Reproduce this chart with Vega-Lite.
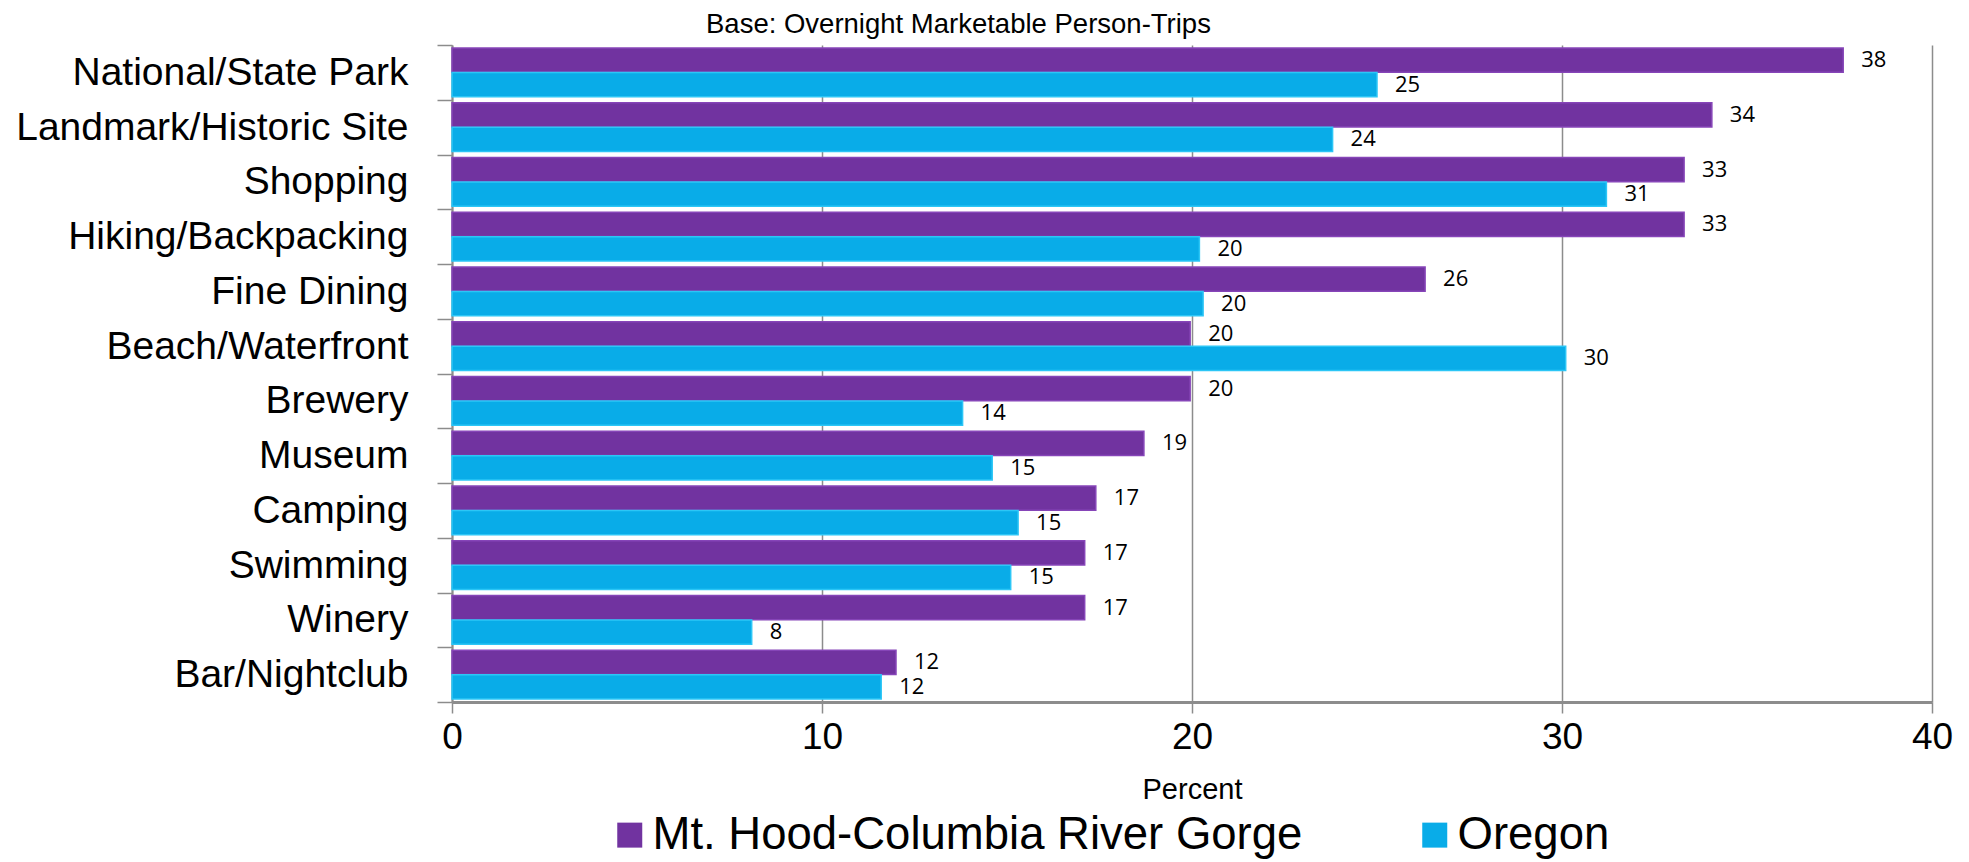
{
  "$schema": "https://vega.github.io/schema/vega-lite/v6.json",
  "autosize": {"type": "none"},
  "width": 1480,
  "height": 657,
  "padding": {"left": 452, "top": 45, "right": 37, "bottom": 160},
  "background": "white",
  "title": {
    "text": "Base: Overnight Marketable Person-Trips",
    "anchor": "start",
    "frame": "group",
    "dx": 254,
    "dy": 22,
    "offset": 10,
    "font": "Liberation Sans",
    "fontSize": 27.5,
    "fontWeight": "normal",
    "color": "#000000"
  },
  "data": {
    "values": [
      {"activity": "National/State Park", "region": "Mt. Hood-Columbia River Gorge", "pct": 37.6},
      {"activity": "National/State Park", "region": "Oregon", "pct": 25.0},
      {"activity": "Landmark/Historic Site", "region": "Mt. Hood-Columbia River Gorge", "pct": 34.05},
      {"activity": "Landmark/Historic Site", "region": "Oregon", "pct": 23.8},
      {"activity": "Shopping", "region": "Mt. Hood-Columbia River Gorge", "pct": 33.3},
      {"activity": "Shopping", "region": "Oregon", "pct": 31.2},
      {"activity": "Hiking/Backpacking", "region": "Mt. Hood-Columbia River Gorge", "pct": 33.3},
      {"activity": "Hiking/Backpacking", "region": "Oregon", "pct": 20.2},
      {"activity": "Fine Dining", "region": "Mt. Hood-Columbia River Gorge", "pct": 26.3},
      {"activity": "Fine Dining", "region": "Oregon", "pct": 20.3},
      {"activity": "Beach/Waterfront", "region": "Mt. Hood-Columbia River Gorge", "pct": 19.95},
      {"activity": "Beach/Waterfront", "region": "Oregon", "pct": 30.1},
      {"activity": "Brewery", "region": "Mt. Hood-Columbia River Gorge", "pct": 19.95},
      {"activity": "Brewery", "region": "Oregon", "pct": 13.8},
      {"activity": "Museum", "region": "Mt. Hood-Columbia River Gorge", "pct": 18.7},
      {"activity": "Museum", "region": "Oregon", "pct": 14.6},
      {"activity": "Camping", "region": "Mt. Hood-Columbia River Gorge", "pct": 17.4},
      {"activity": "Camping", "region": "Oregon", "pct": 15.3},
      {"activity": "Swimming", "region": "Mt. Hood-Columbia River Gorge", "pct": 17.1},
      {"activity": "Swimming", "region": "Oregon", "pct": 15.1},
      {"activity": "Winery", "region": "Mt. Hood-Columbia River Gorge", "pct": 17.1},
      {"activity": "Winery", "region": "Oregon", "pct": 8.1},
      {"activity": "Bar/Nightclub ", "region": "Mt. Hood-Columbia River Gorge", "pct": 12.0},
      {"activity": "Bar/Nightclub ", "region": "Oregon", "pct": 11.6}
    ]
  },
  "encoding": {
    "y": {
      "field": "activity",
      "type": "nominal",
      "sort": null,
      "scale": {"paddingInner": 0, "paddingOuter": 0},
      "axis": {
        "title": null,
        "tickBand": "extent",
        "tickSize": 15,
        "tickColor": "#8c8c8c",
        "tickWidth": 1.5,
        "domainColor": "#8c8c8c",
        "domainWidth": 2,
        "labelFont": "Liberation Sans",
        "labelFontSize": 39,
        "labelColor": "#000000",
        "labelPadding": 29,
        "labelLimit": 600,
        "grid": false
      }
    },
    "x": {
      "field": "pct",
      "type": "quantitative",
      "scale": {"domain": [0, 40], "nice": false},
      "axis": {
        "title": "Percent",
        "titleFont": "Liberation Sans",
        "titleFontSize": 29,
        "titleFontWeight": "normal",
        "titleColor": "#000000",
        "titlePadding": 20,
        "values": [0, 10, 20, 30, 40],
        "tickSize": 11,
        "tickColor": "#8c8c8c",
        "tickWidth": 1.5,
        "domainColor": "#8c8c8c",
        "domainWidth": 3,
        "labelFont": "Liberation Sans",
        "labelFontSize": 37,
        "labelColor": "#000000",
        "labelPadding": 6,
        "labelFlush": false,
        "grid": true,
        "gridColor": "#8c8c8c",
        "gridWidth": 1.5
      }
    },
    "yOffset": {
      "field": "region",
      "type": "nominal",
      "scale": {"paddingOuter": 0.12, "paddingInner": 0.02}
    }
  },
  "layer": [
    {
      "mark": {"type": "bar", "strokeWidth": 1.5},
      "encoding": {
        "color": {
          "field": "region",
          "type": "nominal",
          "scale": {
            "domain": ["Mt. Hood-Columbia River Gorge", "Oregon"],
            "range": ["#7133A0", "#09ACE8"]
          },
          "legend": {
            "title": null,
            "orient": "none",
            "direction": "horizontal",
            "legendX": 155,
            "legendY": 767,
            "symbolType": "square",
            "symbolSize": 625,
            "symbolStrokeWidth": 0,
            "labelFont": "Liberation Sans",
            "labelFontSize": 45.5,
            "labelColor": "#000000",
            "labelOffset": 0,
            "columnPadding": 109,
            "labelLimit": 1000
          }
        },
        "stroke": {
          "field": "region",
          "type": "nominal",
          "scale": {
            "domain": ["Mt. Hood-Columbia River Gorge", "Oregon"],
            "range": ["#8645B8", "#2CC6F6"]
          },
          "legend": null
        }
      }
    },
    {
      "mark": {"type": "text", "align": "left", "baseline": "middle", "dx": 18, "font": "Open Sans", "fontSize": 22, "color": "#000000"},
      "encoding": {
        "text": {"field": "pct", "type": "quantitative", "format": ".0f"}
      }
    }
  ],
  "config": {"view": {"stroke": null}}
}
